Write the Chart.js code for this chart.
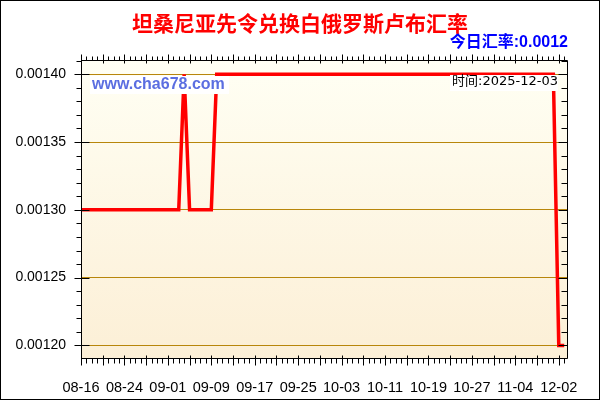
<!DOCTYPE html>
<html>
<head>
<meta charset="utf-8">
<title>坦桑尼亚先令兑换白俄罗斯卢布汇率</title>
<script src="https://cdn.jsdelivr.net/npm/chart.js@4.4.1/dist/chart.umd.min.js"></script>
<style>
  html, body { margin: 0; padding: 0; background: #fff; }
  canvas { display: block; }
</style>
</head>
<body>
<canvas id="rate-chart" width="600" height="400"></canvas>
<script>
// x axis labels, one label every 8 points
const xTickLabels = ['08-16', '08-24', '09-01', '09-09', '09-17', '09-25', '10-03', '10-11', '10-19', '10-27', '11-04', '12-02'];
const xTickStep = 8;

// y axis labels
const yTicks = [0.0012, 0.00125, 0.0013, 0.00135, 0.0014];

// TZS -> BYN, one value per point
const rates = [
  0.0013, 0.0013, 0.0013, 0.0013, 0.0013, 0.0013, 0.0013, 0.0013, 0.0013, 0.0013,
  0.0013, 0.0013, 0.0013, 0.0013, 0.0013, 0.0013, 0.0013, 0.0013, 0.0013, 0.0014,
  0.0013, 0.0013, 0.0013, 0.0013, 0.0013, 0.0014, 0.0014, 0.0014, 0.0014, 0.0014,
  0.0014, 0.0014, 0.0014, 0.0014, 0.0014, 0.0014, 0.0014, 0.0014, 0.0014, 0.0014,
  0.0014, 0.0014, 0.0014, 0.0014, 0.0014, 0.0014, 0.0014, 0.0014, 0.0014, 0.0014,
  0.0014, 0.0014, 0.0014, 0.0014, 0.0014, 0.0014, 0.0014, 0.0014, 0.0014, 0.0014,
  0.0014, 0.0014, 0.0014, 0.0014, 0.0014, 0.0014, 0.0014, 0.0014, 0.0014, 0.0014,
  0.0014, 0.0014, 0.0014, 0.0014, 0.0014, 0.0014, 0.0014, 0.0014, 0.0014, 0.0014,
  0.0014, 0.0014, 0.0014, 0.0014, 0.0014, 0.0014, 0.0014, 0.0014, 0.0012, 0.0012
];

const titleText = '坦桑尼亚先令兑换白俄罗斯卢布汇率';
const todayText = '今日汇率:0.0012';
const siteText = 'www.cha678.com';
const timeText = '时间:2025-12-03';

const Y_MIN = 0.00119;
const Y_MAX = 0.0014105;
const X_MAX = 89.7;

const LATIN = "'Liberation Sans', 'Noto Sans CJK SC', sans-serif";
const CJK = "'Noto Sans CJK SC', sans-serif";

/**
 * background, label boxes, axis frame and tick marks
 */
const chartDecor = {
  id: 'chartDecor',

  beforeDraw(chart) {
    const { ctx, chartArea: a } = chart;
    ctx.save();
    ctx.fillStyle = '#fff';
    ctx.fillRect(0, 0, chart.width, chart.height);
    const g = ctx.createLinearGradient(0, a.top, 0, a.bottom);
    g.addColorStop(0, '#fffff4');
    g.addColorStop(1, '#fcefd6');
    ctx.fillStyle = g;
    ctx.fillRect(a.left, a.top, a.right - a.left, a.bottom - a.top);
    ctx.restore();
  },

  afterDatasetsDraw(chart) {
    const { ctx, chartArea: a } = chart;
    ctx.save();
    ctx.textBaseline = 'middle';

    // site watermark
    ctx.fillStyle = '#fff';
    ctx.fillRect(a.left + 9, a.top + 16, 139, 18);
    ctx.font = `bold 16px ${LATIN}`;
    ctx.fillStyle = '#5b6ee1';
    ctx.textAlign = 'left';
    ctx.fillText(siteText, a.left + 11, a.top + 25);

    // time stamp
    ctx.fillStyle = '#fff';
    ctx.fillRect(a.right - 118, a.top + 15, 108, 16);
    ctx.font = `13px 'DejaVu Sans', ${CJK}`;
    ctx.fillStyle = '#000';
    ctx.textAlign = 'right';
    ctx.fillText(timeText, a.right - 10, a.top + 22);
    ctx.restore();
  },

  afterDraw(chart) {
    const { ctx, chartArea: a, scales: { x, y } } = chart;
    const L = a.left + 0.5, R = Math.round(a.right) - 0.5;
    const T = a.top + 0.5, B = Math.round(a.bottom) - 0.5;

    ctx.save();
    ctx.strokeStyle = '#000';
    ctx.lineWidth = 1;
    ctx.beginPath();

    // frame
    ctx.rect(L, T, R - L, B - T);

    // x ticks on top and bottom, one per point
    for (let i = 0; i <= Math.floor(X_MAX); i++) {
      const px = Math.round(x.getPixelForValue(i)) + 0.5;
      const major = i % 4 === 0;
      ctx.moveTo(px, B - (major ? 3 : 0));
      ctx.lineTo(px, B + (major ? 7 : 5));
      ctx.moveTo(px, T + (major ? 3 : 0));
      ctx.lineTo(px, T - (major ? 6 : 4));
    }

    // y ticks on left and right, every 0.00001
    for (let k = 119; k <= 141; k++) {
      const py = Math.round(y.getPixelForValue(k / 100000)) + 0.5;
      if (py < T || py > B) continue;
      const major = k % 5 === 0;
      ctx.moveTo(L - (major ? 7 : 5), py);
      ctx.lineTo(L + (major ? 8 : 0), py);
      ctx.moveTo(R - (major ? 9 : 6), py);
      ctx.lineTo(R, py);
    }
    ctx.stroke();

    // outer border
    ctx.strokeRect(0.5, 0.5, chart.width - 1, chart.height - 1);
    ctx.restore();
  }
};

function initChart() {
  const canvas = document.getElementById('rate-chart');
  if (!canvas) return;

  new Chart(canvas.getContext('2d'), {
    type: 'line',
    data: {
      datasets: [{
        label: todayText,
        data: rates.map((v, i) => ({ x: i, y: v })),
        borderColor: '#ff0000',
        backgroundColor: '#ff0000',
        borderWidth: 3.5,
        pointRadius: 0,
        tension: 0,
        fill: false
      }]
    },
    options: {
      responsive: false,
      animation: false,
      layout: { padding: 0 },
      scales: {
        x: {
          type: 'linear',
          min: 0,
          max: X_MAX,
          afterBuildTicks: s => { s.ticks = xTickLabels.map((_, i) => ({ value: i * xTickStep })); },
          afterFit: s => { s.height = 41; },
          grid: { display: false },
          border: { display: false },
          ticks: {
            autoSkip: false,
            maxRotation: 0,
            padding: 12,
            color: '#000',
            font: { family: LATIN, size: 14.5 },
            callback: (v, i) => xTickLabels[i]
          }
        },
        y: {
          min: Y_MIN,
          max: Y_MAX,
          afterBuildTicks: s => { s.ticks = yTicks.map(v => ({ value: v })); },
          afterFit: s => { s.width = 81; },
          grid: { color: '#b8860b', drawTicks: false },
          border: { display: false },
          ticks: {
            padding: 15,
            color: '#000',
            font: { family: LATIN, size: 14 },
            callback: v => Number(v).toFixed(5)
          }
        },
        y2: {
          position: 'right',
          min: Y_MIN,
          max: Y_MAX,
          afterFit: s => { s.width = 32; },
          grid: { display: false },
          border: { display: false },
          ticks: { display: false }
        }
      },
      plugins: {
        legend: { display: false },
        tooltip: { enabled: false },
        title: {
          display: true,
          text: titleText,
          color: '#ff0000',
          font: { family: CJK, size: 21, weight: 'bold', lineHeight: 1 },
          padding: { top: 13, bottom: 0 }
        },
        subtitle: {
          display: true,
          fullSize: false,
          align: 'end',
          text: todayText,
          color: '#0000ff',
          font: { family: LATIN, size: 16, weight: 'bold', lineHeight: 1 },
          padding: { top: 1, bottom: 9 }
        }
      }
    },
    plugins: [chartDecor]
  });
}

if (document.readyState !== 'loading') {
  initChart();
} else {
  document.addEventListener('DOMContentLoaded', initChart);
}
</script>
</body>
</html>
